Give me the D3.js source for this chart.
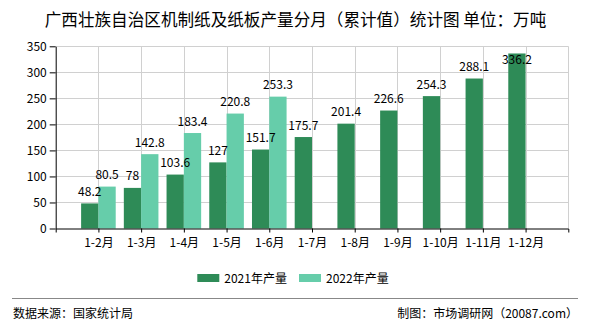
<!DOCTYPE html>
<html>
<head>
<meta charset="utf-8">
<script src="https://cdn.jsdelivr.net/npm/d3@7/dist/d3.min.js"></script>
<style>
  html, body { margin: 0; padding: 0; background: #fff; }
  svg { display: block; }
  text { font-family: "Noto Sans CJK SC", "Noto Sans", sans-serif; fill: #000; }
</style>
</head>
<body>
<svg id="chart" width="590" height="330"></svg>
<script>
const categories = ["1-2月","1-3月","1-4月","1-5月","1-6月","1-7月","1-8月","1-9月","1-10月","1-11月","1-12月"];
const values2021 = [48.2, 78, 103.6, 127, 151.7, 175.7, 201.4, 226.6, 254.3, 288.1, 336.2];
const values2022 = [80.5, 142.8, 183.4, 220.8, 253.3, null, null, null, null, null, null];
const seriesNames = ["2021年产量", "2022年产量"];
const seriesColors = ["#2e8b57", "#66cdaa"];
const yTicks = [0, 50, 100, 150, 200, 250, 300, 350];
const titleText = "广西壮族自治区机制纸及纸板产量分月（累计值）统计图 单位：万吨";
const sourceText = "数据来源：国家统计局";
const makerText = "制图：市场调研网（20087.com）";

(function () {
const svg = d3.select("#chart");
const pLeft = 55.7, pRight = 568.3, pTop = 46.3, pBottom = 228.5;
const barW = 17.3;

const x = d3.scalePoint().domain(categories).range([pLeft, pRight]).padding(1);
const y = d3.scaleLinear().domain([0, 350]).range([pBottom, pTop]);

// title
svg.append("text").attr("x", 295.5).attr("y", 26).attr("text-anchor", "middle")
  .style("font-size", "16.6px").text(titleText);

// grid
const grid = svg.append("g").attr("stroke", "#d0d0d0").attr("stroke-width", 1);
yTicks.filter(t => t > 0).forEach(t => {
  grid.append("line").attr("x1", pLeft).attr("x2", pRight)
    .attr("y1", Math.round(y(t)) + 0.5).attr("y2", Math.round(y(t)) + 0.5);
});
categories.forEach(c => {
  grid.append("line").attr("x1", Math.round(x(c)) + 0.5).attr("x2", Math.round(x(c)) + 0.5)
    .attr("y1", pTop).attr("y2", pBottom);
});
grid.append("line").attr("x1", Math.round(pRight) + 0.5).attr("x2", Math.round(pRight) + 0.5)
  .attr("y1", pTop).attr("y2", pBottom);

// bars
const series = [values2021, values2022];
series.forEach((vals, si) => {
  const g = svg.append("g");
  vals.forEach((v, i) => {
    if (v == null) return;
    const cx = x(categories[i]);
    const bx = si === 0 ? cx - barW : cx;
    g.append("rect").attr("x", bx).attr("y", y(v)).attr("width", barW)
      .attr("height", y(0) - y(v)).attr("fill", seriesColors[si]);
  });
});

// labels
series.forEach((vals, si) => {
  vals.forEach((v, i) => {
    if (v == null) return;
    const cx = x(categories[i]);
    const lx = si === 0 ? cx - barW / 2 : cx + barW / 2;
    const ly = Math.max(y(v) - 7.5, 64.3);
    svg.append("text").attr("x", lx).attr("y", ly).attr("text-anchor", "middle")
      .style("font-size", "12px").text(String(v));
  });
});

// axes
const yAxis = svg.append("g").attr("transform", `translate(${pLeft},0)`)
  .call(d3.axisLeft(y).tickValues(yTicks).tickSize(6).tickSizeOuter(0).tickPadding(3));
yAxis.selectAll("text").style("font-size", "12px").style("font-family", "'Noto Sans CJK SC', sans-serif").attr("fill", "#000");
yAxis.selectAll("line, path").attr("stroke", "#000");

const xAxis = svg.append("g").attr("transform", `translate(0,${pBottom})`)
  .call(d3.axisBottom(x).tickSize(4).tickSizeOuter(4).tickPadding(6));
xAxis.selectAll("text").style("font-size", "12px").style("font-family", "'Noto Sans CJK SC', sans-serif").attr("fill", "#000");
xAxis.selectAll("line, path").attr("stroke", "#000");

// legend
const legendX = [197.3, 299];
seriesNames.forEach((n, i) => {
  svg.append("rect").attr("x", legendX[i]).attr("y", 274).attr("width", 22).attr("height", 8)
    .attr("fill", seriesColors[i]);
  svg.append("text").attr("x", legendX[i] + 27).attr("y", 282.5)
    .style("font-size", "12px").text(n);
});

// footer
svg.append("line").attr("x1", 12).attr("x2", 578).attr("y1", 298.5).attr("y2", 298.5)
  .attr("stroke", "#888").attr("stroke-width", 1);
svg.append("text").attr("x", 13).attr("y", 318).style("font-size", "12px").text(sourceText);
svg.append("text").attr("x", 578).attr("y", 318).attr("text-anchor", "end")
  .style("font-size", "12px").text(makerText);
})();
</script>
</body>
</html>
